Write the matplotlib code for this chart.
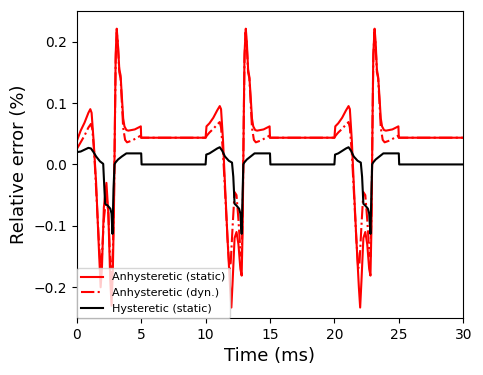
import numpy as np
import matplotlib
matplotlib.use("Agg")
import matplotlib.pyplot as plt

# cycle times (ms, relative to start of each 10 ms cycle) and values (%)
periods = [0, 10, 20]

# first cycle
t_stat_1 = [0.0, 0.3, 0.6, 0.9, 1.05, 1.15, 1.3, 1.5, 1.7, 1.85, 1.95, 2.1, 2.3, 2.45, 2.6, 2.7, 2.8, 2.88, 2.95, 3.02, 3.1, 3.18, 3.3, 3.4, 3.5, 3.6, 3.7, 3.85, 4.0, 4.5, 4.97, 5.0, 10.0]
v_stat_1 = [0.038, 0.055, 0.068, 0.084, 0.09, 0.084, 0.04, -0.03, -0.13, -0.2, -0.17, -0.07, -0.03, -0.08, -0.19, -0.23, -0.17, -0.08, 0.05, 0.18, 0.221, 0.2, 0.155, 0.145, 0.11, 0.075, 0.062, 0.056, 0.055, 0.057, 0.062, 0.0435, 0.0435]
t_dyn_1 = [0.0, 0.3, 0.6, 0.9, 1.1, 1.2, 1.35, 1.5, 1.7, 1.85, 1.95, 2.1, 2.3, 2.45, 2.6, 2.7, 2.8, 2.88, 2.95, 3.02, 3.1, 3.18, 3.3, 3.4, 3.5, 3.6, 3.75, 3.9, 4.3, 4.97, 5.0, 10.0]
v_dyn_1 = [0.025, 0.036, 0.047, 0.06, 0.066, 0.058, 0.02, -0.04, -0.12, -0.17, -0.15, -0.09, -0.05, -0.08, -0.16, -0.19, -0.14, -0.07, 0.05, 0.17, 0.215, 0.2, 0.15, 0.14, 0.1, 0.06, 0.04, 0.036, 0.039, 0.047, 0.0435, 0.0435]
t_hyst_1 = [0.0, 0.3, 0.6, 0.9, 1.1, 1.3, 1.5, 1.8, 2.05, 2.12, 2.2, 2.4, 2.6, 2.7, 2.77, 2.85, 2.93, 3.0, 3.2, 3.5, 3.85, 5.0, 5.03, 10.0]
v_hyst_1 = [0.020, 0.021, 0.024, 0.027, 0.026, 0.02, 0.013, 0.005, 0.001, -0.03, -0.064, -0.067, -0.072, -0.08, -0.113, -0.04, 0.0, 0.003, 0.008, 0.013, 0.018, 0.018, 0.0, 0.0]

# later cycles
t_stat = [0.0, 0.07, 0.3, 0.6, 0.9, 1.1, 1.2, 1.35, 1.5, 1.7, 1.9, 2.0, 2.1, 2.25, 2.4, 2.55, 2.7, 2.8, 2.88, 2.95, 3.02, 3.12, 3.2, 3.3, 3.4, 3.5, 3.6, 3.7, 3.85, 4.0, 4.5, 4.97, 5.0, 10.0]
v_stat = [0.0435, 0.062, 0.067, 0.076, 0.088, 0.095, 0.09, 0.04, -0.03, -0.12, -0.2, -0.233, -0.19, -0.12, -0.11, -0.13, -0.17, -0.181, -0.1, 0.05, 0.18, 0.221, 0.2, 0.155, 0.142, 0.11, 0.075, 0.062, 0.056, 0.055, 0.057, 0.062, 0.0435, 0.0435]
t_dyn = [0.0, 0.1, 0.3, 0.6, 0.9, 1.1, 1.2, 1.35, 1.5, 1.7, 1.85, 1.95, 2.1, 2.25, 2.4, 2.55, 2.7, 2.8, 2.88, 2.95, 3.02, 3.1, 3.18, 3.3, 3.4, 3.5, 3.6, 3.75, 3.9, 4.3, 4.97, 5.0, 10.0]
v_dyn = [0.0435, 0.047, 0.052, 0.058, 0.065, 0.069, 0.06, 0.02, -0.04, -0.12, -0.17, -0.16, -0.1, -0.045, -0.05, -0.09, -0.14, -0.15, -0.08, 0.05, 0.17, 0.215, 0.2, 0.15, 0.14, 0.1, 0.06, 0.04, 0.036, 0.039, 0.047, 0.0435, 0.0435]
t_hyst = [0.0, 0.05, 0.3, 0.6, 0.9, 1.1, 1.3, 1.5, 1.8, 2.05, 2.15, 2.25, 2.4, 2.6, 2.7, 2.8, 2.87, 2.93, 3.0, 3.2, 3.5, 3.8, 5.0, 5.03, 10.0]
v_hyst = [0.0, 0.016, 0.018, 0.022, 0.026, 0.028, 0.022, 0.013, 0.006, 0.003, -0.02, -0.064, -0.067, -0.072, -0.08, -0.113, -0.05, 0.0, 0.003, 0.008, 0.013, 0.018, 0.018, 0.0, 0.0]


def cycles(t1, v1, t, v):
    ts = list(t1)
    vs = list(v1)
    for p in periods[1:]:
        ts += [p + x for x in t]
        vs += list(v)
    return ts, vs


fig = plt.figure(figsize=(4.83, 3.75), dpi=100)
ax = fig.add_axes([0.159, 0.152, 0.8, 0.819])

ts, vs = cycles(t_stat_1, v_stat_1, t_stat, v_stat)
ax.plot(ts, vs, color="red", lw=1.5, label="Anhysteretic (static)")
ts, vs = cycles(t_dyn_1, v_dyn_1, t_dyn, v_dyn)
ax.plot(ts, vs, color="red", lw=1.5, ls="-.", label="Anhysteretic (dyn.)")
ts, vs = cycles(t_hyst_1, v_hyst_1, t_hyst, v_hyst)
ax.plot(ts, vs, color="black", lw=1.5, label="Hysteretic (static)")

ax.set_xlim(0, 30)
ax.set_ylim(-0.25, 0.25)
ax.set_xlabel("Time (ms)", fontsize=13)
ax.set_ylabel("Relative error (%)", fontsize=13)
ax.legend(loc="lower left", fontsize=8, borderaxespad=0)

fig.savefig("out.png", dpi=100)
